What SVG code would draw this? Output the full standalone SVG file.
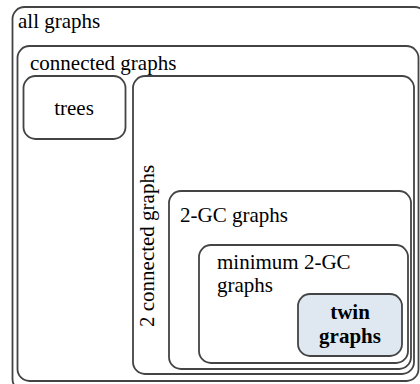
<svg xmlns="http://www.w3.org/2000/svg" width="420" height="384" viewBox="0 0 420 384">
<defs>
<rect id="bg" width="420" height="384" fill="#ffffff"/>
</defs>
<use href="#bg"/>
<g fill="#ffffff" stroke="#444444" stroke-width="1.8">
<g id="all-graphs"><rect x="12.5" y="7" width="414" height="384" rx="12"/></g>
<g id="connected-graphs"><rect x="17.5" y="46" width="401" height="335" rx="12"/></g>
<g id="trees"><rect x="23.5" y="76" width="102" height="63" rx="12"/></g>
<g id="two-connected-graphs"><rect x="133" y="76" width="281" height="298" rx="12"/></g>
<g id="two-gc-graphs"><rect x="169" y="191" width="242" height="178" rx="12"/></g>
<g id="minimum-two-gc-graphs"><rect x="199" y="245" width="209" height="118" rx="12"/></g>
<g id="twin-graphs"><rect x="298" y="294" width="104" height="62" rx="12" fill="#dfe8f1"/></g>
</g>
<g id="labels" font-family="Liberation Serif" font-size="21" fill="#000000">
<text x="18" y="28">all graphs</text>
<text x="30" y="70">connected graphs</text>
<text x="74" y="115" text-anchor="middle">trees</text>
<text transform="translate(154,327) rotate(-90)">2 connected graphs</text>
<text x="180" y="222">2-GC graphs</text>
<text x="217" y="269">minimum 2-GC</text>
<text x="217" y="292">graphs</text>
<text x="350" y="319" font-weight="bold" text-anchor="middle">twin</text>
<text x="350" y="343" font-weight="bold" text-anchor="middle">graphs</text>
</g>
</svg>
